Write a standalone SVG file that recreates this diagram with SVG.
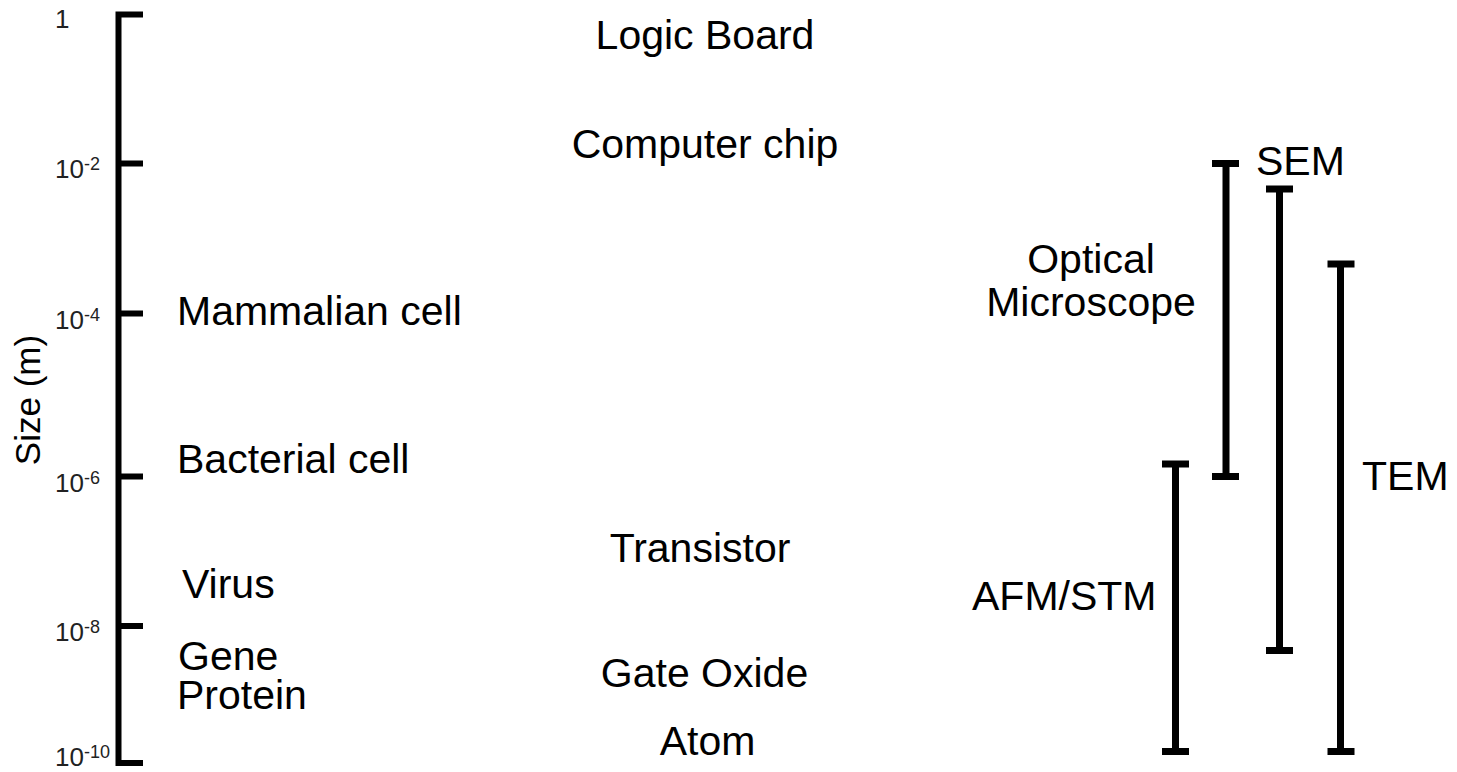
<svg xmlns="http://www.w3.org/2000/svg" width="1457" height="772" viewBox="0 0 1457 772">
<style>
text{font-family:"Liberation Sans",Arial,sans-serif;fill:#000}
.lbl{font-size:41px}
.tick{font-size:26px;fill:#222}
.sup{font-size:18px}
.ax{stroke:#000;stroke-width:6;fill:none;stroke-linecap:butt}
.bar{stroke:#000;stroke-width:7;fill:none}
</style>
<rect width="1457" height="772" fill="#fff"/>
<g id="axis">
<path class="ax" d="M143,14.5 H118.5 V763 H143"/>
<path class="ax" d="M118.5,163.5 H143 M118.5,313.5 H143 M118.5,476.5 H143 M118.5,626 H143"/>
<text class="tick" x="55" y="28">1</text>
<text class="tick" x="55" y="178">10<tspan class="sup" dy="-8">-2</tspan></text>
<text class="tick" x="55" y="329">10<tspan class="sup" dy="-8">-4</tspan></text>
<text class="tick" x="55" y="492">10<tspan class="sup" dy="-8">-6</tspan></text>
<text class="tick" x="55" y="641">10<tspan class="sup" dy="-8">-8</tspan></text>
<text class="tick" x="55" y="766">10<tspan class="sup" dy="-8">-10</tspan></text>
<text x="0" y="0" font-size="35" text-anchor="middle" transform="translate(40,400) rotate(-90)">Size (m)</text>
</g>
<g id="node-logic-board"><text class="lbl" x="705" y="49" text-anchor="middle">Logic Board</text></g>
<g id="node-computer-chip"><text class="lbl" x="705" y="158" text-anchor="middle">Computer chip</text></g>
<g id="node-mammalian-cell"><text class="lbl" x="177" y="325">Mammalian cell</text></g>
<g id="node-bacterial-cell"><text class="lbl" x="177" y="473">Bacterial cell</text></g>
<g id="node-virus"><text class="lbl" x="182" y="598">Virus</text></g>
<g id="node-gene-protein"><text class="lbl" x="178" y="670">Gene</text><text class="lbl" x="177" y="709">Protein</text></g>
<g id="node-transistor"><text class="lbl" x="700" y="562" text-anchor="middle">Transistor</text></g>
<g id="node-gate-oxide"><text class="lbl" x="704.5" y="687" text-anchor="middle">Gate Oxide</text></g>
<g id="node-atom"><text class="lbl" x="707.5" y="755" text-anchor="middle">Atom</text></g>
<g id="node-optical"><text class="lbl" x="1091" y="273" text-anchor="middle">Optical</text><text class="lbl" x="1091" y="316" text-anchor="middle">Microscope</text></g>
<g id="node-afm"><text class="lbl" x="972" y="610">AFM/STM</text></g>
<g id="node-sem"><text class="lbl" x="1256" y="175">SEM</text></g>
<g id="node-tem"><text class="lbl" x="1362" y="490">TEM</text></g>
<g id="connectors">
<path class="bar" d="M1226,163.5 V476.5 M1212,163.5 H1239 M1212,476.5 H1239"/>
<path class="bar" d="M1279.5,189 V650.5 M1266,189 H1293 M1266,650.5 H1293"/>
<path class="bar" d="M1340.5,264 V751.5 M1327.5,264 H1354.5 M1327.5,751.5 H1354.5"/>
<path class="bar" d="M1175.5,464 V751.5 M1162,464 H1189 M1162,751.5 H1189"/>
</g>
</svg>
